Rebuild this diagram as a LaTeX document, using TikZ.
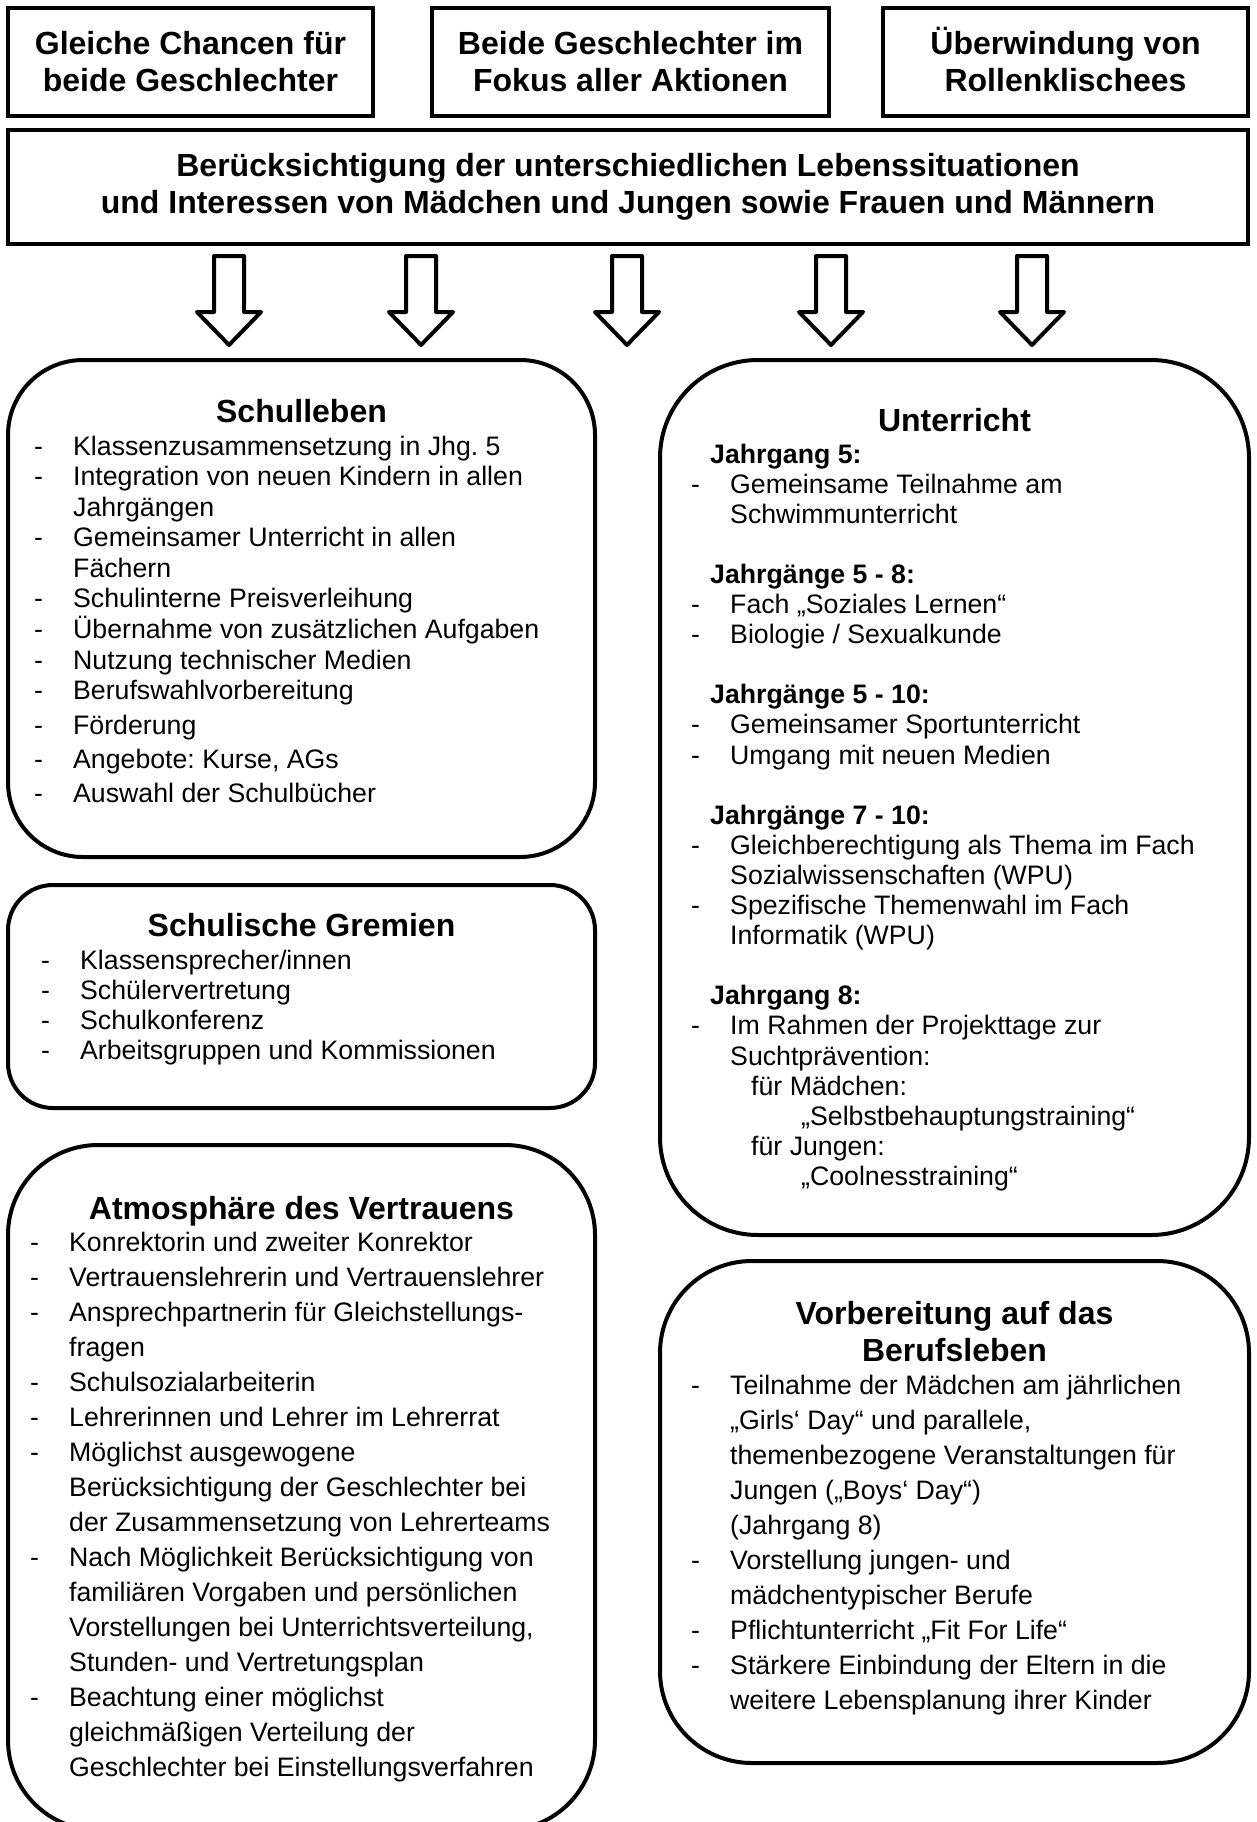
\documentclass[tikz,border=0pt]{standalone}
\usepackage{fontspec}
\setmainfont{Liberation Sans}
\usetikzlibrary{positioning}
\frenchspacing

% list with a dash column and a text column
\newcommand{\dashlist}[1]{\begin{tabular}[t]{@{}p{39pt}@{}l@{}}#1\end{tabular}}
\newcommand{\jahrgang}[1]{\multicolumn{2}{@{}l@{}}{\hspace*{19pt}\textbf{#1}}}
% same line heights in all three top boxes
\newcommand{\topline}{\rule{0pt}{29pt}}
\newcommand{\botline}{\rule[-6pt]{0pt}{6pt}}

\begin{document}
\begin{tikzpicture}[x=1pt,y=-1pt,
  headbox/.style={draw,line width=4pt,minimum height=108pt,inner sep=0pt,align=center,
    font=\fontsize{32}{37}\selectfont\bfseries},
  roundbox/.style={draw,line width=4pt},
  boxtitle/.style={anchor=base,inner sep=0pt,font=\fontsize{32}{37}\selectfont\bfseries},
  boxlist/.style={anchor=base west,inner sep=0pt,font=\fontsize{26.7}{30.5}\selectfont},
  blockarrow/.style={draw,line width=4pt,line join=round}]
  \fill[white] (0,0) rectangle (1257,1822);
  \useasboundingbox (0,0) rectangle (1257,1822);
  % Top row: three goals and the common box
  \node[headbox,minimum width=365pt] (chancen) at (190.5,62) {\topline Gleiche Chancen für\\beide Geschlechter\botline};
  \node[headbox,minimum width=397pt] (fokus)   at (630.5,62) {\topline Beide Geschlechter im\\Fokus aller Aktionen\botline};
  \node[headbox,minimum width=365pt] (rollen)  at (1065.5,62) {\topline Überwindung von\\Rollenklischees\botline};
  \node[headbox,minimum width=1240pt,minimum height=114pt] (main) at (628,187)
  {Berücksichtigung der unterschiedlichen Lebenssituationen\\und Interessen von Mädchen und Jungen sowie Frauen und Männern};
  % block arrows
  \foreach \ax in {229,421,627,831,1032}
    \draw[blockarrow] (\ax-15,256) -- (\ax+15,256) -- (\ax+15,312) -- (\ax+32,312)
      -- (\ax,345) -- (\ax-32,312) -- (\ax-15,312) -- cycle;
  % Left-hand side column
  \node[roundbox,rounded corners=75pt,minimum width=587pt,minimum height=497pt] (leben) at (301.5,608.5) {};
  \node[boxtitle] (lebentitel) at (301.5,422) {Schulleben};
  \node[boxlist] (lebenliste) at (34,455) {\dashlist{%
    - & Klassenzusammensetzung in Jhg. 5\\
    - & Integration von neuen Kindern in allen\\
      & Jahrgängen\\
    - & Gemeinsamer Unterricht in allen\\
      & Fächern\\
    - & Schulinterne Preisverleihung\\
    - & Übernahme von zusätzlichen Aufgaben\\
    - & Nutzung technischer Medien\\
    - & Berufswahlvorbereitung\\[4pt]
    - & Förderung\\[4pt]
    - & Angebote: Kurse, AGs\\[3pt]
    - & Auswahl der Schulbücher}};

  \node[roundbox,rounded corners=45pt,minimum width=587pt,minimum height=223pt] (gremien) at (301.5,996.5) {};
  \node[boxtitle] (gremientitel) at (301.5,936) {Schulische Gremien};
  \node[boxlist,font=\fontsize{26.7}{30}\selectfont] (gremienliste) at (41,969) {\dashlist{%
    - & Klassensprecher/innen\\
    - & Schülervertretung\\
    - & Schulkonferenz\\
    - & Arbeitsgruppen und Kommissionen}};

  \node[roundbox,rounded corners=90pt,minimum width=587pt,minimum height=685pt] (vertrauen) at (301.5,1487.5) {};
  \node[boxtitle] (vertrauentitel) at (301.5,1219) {Atmosphäre des Vertrauens};
  \node[boxlist,font=\fontsize{26.7}{35}\selectfont] (vertrauenliste) at (30,1251) {\dashlist{%
    - & Konrektorin und zweiter Konrektor\\
    - & Vertrauenslehrerin und Vertrauenslehrer\\
    - & Ansprechpartnerin für Gleichstellungs-\\
      & fragen\\
    - & Schulsozialarbeiterin\\
    - & Lehrerinnen und Lehrer im Lehrerrat\\
    - & Möglichst ausgewogene\\
      & Berücksichtigung der Geschlechter bei\\
      & der Zusammensetzung von Lehrerteams\\
    - & Nach Möglichkeit Berücksichtigung von\\
      & familiären Vorgaben und persönlichen\\
      & Vorstellungen bei Unterrichtsverteilung,\\
      & Stunden- und Vertretungsplan\\
    - & Beachtung einer möglichst\\
      & gleichmäßigen Verteilung der\\
      & Geschlechter bei Einstellungsverfahren}};

  % Right-hand side column
  \node[roundbox,rounded corners=98pt,minimum width=589pt,minimum height=875pt] (unterricht) at (954.5,797.5) {};
  \node[boxtitle] (unterrichttitel) at (954.5,431) {Unterricht};
  \node[boxlist,font=\fontsize{26.7}{30.1}\selectfont] (unterrichtliste) at (691,463) {\dashlist{%
    \jahrgang{Jahrgang 5:}\\
    - & Gemeinsame Teilnahme am\\
      & Schwimmunterricht\\
    \\
    \jahrgang{Jahrgänge 5 - 8:}\\
    - & Fach „Soziales Lernen“\\
    - & Biologie / Sexualkunde\\
    \\
    \jahrgang{Jahrgänge 5 - 10:}\\
    - & Gemeinsamer Sportunterricht\\
    - & Umgang mit neuen Medien\\
    \\
    \jahrgang{Jahrgänge 7 - 10:}\\
    - & Gleichberechtigung als Thema im Fach\\
      & Sozialwissenschaften (WPU)\\
    - & Spezifische Themenwahl im Fach\\
      & Informatik (WPU)\\
    \\
    \jahrgang{Jahrgang 8:}\\
    - & Im Rahmen der Projekttage zur\\
      & Suchtprävention:\\
      & \hspace*{21pt}für Mädchen:\\
      & \hspace*{71pt}„Selbstbehauptungstraining“\\
      & \hspace*{21pt}für Jungen:\\
      & \hspace*{71pt}„Coolnesstraining“}};

  \node[roundbox,rounded corners=92pt,minimum width=589pt,minimum height=502pt] (beruf) at (954.5,1512) {};
  \node[boxtitle,align=center] (beruftitel) at (954.5,1361) {Vorbereitung auf das\\Berufsleben};
  \node[boxlist,font=\fontsize{26.7}{35}\selectfont] (berufliste) at (691,1394) {\dashlist{%
    - & Teilnahme der Mädchen am jährlichen\\
      & „Girls‘ Day“ und parallele,\\
      & themenbezogene Veranstaltungen für\\
      & Jungen („Boys‘ Day“)\\
      & (Jahrgang 8)\\
    - & Vorstellung jungen- und\\
      & mädchentypischer Berufe\\
    - & Pflichtunterricht „Fit For Life“\\
    - & Stärkere Einbindung der Eltern in die\\
      & weitere Lebensplanung ihrer Kinder}};
\end{tikzpicture}
\end{document}
